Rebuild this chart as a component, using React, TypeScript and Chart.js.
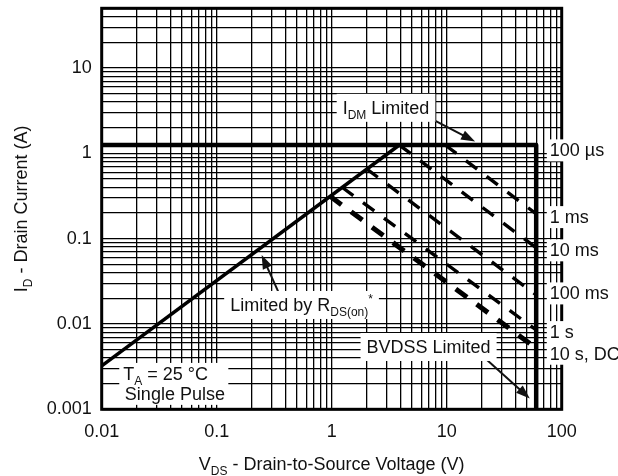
import { useEffect, useRef } from 'react';
import { Chart, registerables } from 'chart.js';

Chart.register(...registerables);

// Log-log grid: every decade plus its 2..9 subdivisions
const X_GRID = [
  0.01, 0.02, 0.03, 0.04, 0.05, 0.06, 0.07, 0.08, 0.09,
  0.1, 0.2, 0.3, 0.4, 0.5, 0.6, 0.7, 0.8, 0.9,
  1, 2, 3, 4, 5, 6, 7, 8, 9,
  10, 20, 30, 40, 50, 60, 70, 80, 90,
  100,
];
const X_LABELS = [0.01, 0.1, 1, 10, 100];
const Y_GRID = [
  0.001, 0.002, 0.003, 0.004, 0.005, 0.006, 0.007, 0.008, 0.009,
  0.01, 0.02, 0.03, 0.04, 0.05, 0.06, 0.07, 0.08, 0.09,
  0.1, 0.2, 0.3, 0.4, 0.5, 0.6, 0.7, 0.8, 0.9,
  1, 2, 3, 4, 5, 6, 7, 8, 9,
  10, 20, 30, 40, 50,
];
const Y_LABELS = [0.001, 0.01, 0.1, 1, 10];

// On-resistance limit (V, A)
const RDS_V = [0.01, 3.875];
const RDS_I = [0.00323, 1.25];
// Pulsed drain current limit, then the breakdown voltage limit
const LIMIT_V = [0.01, 60, 60];
const LIMIT_I = [1.25, 1.25, 0.001];
// Constant-power pulse-width boundaries
const P1MS_V = [9.7, 60];
const P1MS_I = [1.25, 0.195];
const P10MS_V = [3.875, 60];
const P10MS_I = [1.25, 0.078];
const P100MS_V = [2.01, 60];
const P100MS_I = [0.656, 0.0219];
const P1S_V = [1.23, 60];
const P1S_I = [0.4, 0.0085];
const PDC_V = [0.97, 60];
const PDC_I = [0.313, 0.0052];

const PULSE_NAMES = ['100 µs', '1 ms', '10 ms', '100 ms', '1 s', '10 s, DC'];

const FONT = '"Liberation Sans", Arial, Helvetica, sans-serif';

type Part = { t: string; sub?: boolean; sup?: boolean };

const toPoints = (xs: number[], ys: number[]) => xs.map((x, i) => ({ x, y: ys[i] }));

function setFont(ctx: CanvasRenderingContext2D, p: Part) {
  ctx.font = (p.sub || p.sup ? '12px ' : '18px ') + FONT;
}

function measure(ctx: CanvasRenderingContext2D, parts: Part[]) {
  let w = 0;
  for (const p of parts) {
    setFont(ctx, p);
    w += ctx.measureText(p.t).width;
  }
  return w;
}

function drawParts(ctx: CanvasRenderingContext2D, parts: Part[], x: number, y: number) {
  ctx.textAlign = 'left';
  ctx.textBaseline = 'alphabetic';
  let cx = x;
  for (const p of parts) {
    setFont(ctx, p);
    const dy = p.sub ? 5 : p.sup ? -8 : 0;
    ctx.fillText(p.t, cx, y + dy);
    cx += ctx.measureText(p.t).width;
  }
}

function arrow(ctx: CanvasRenderingContext2D, x1: number, y1: number, x2: number, y2: number) {
  const a = Math.atan2(y2 - y1, x2 - x1);
  const L = 14;
  const W = 5;
  const c = Math.cos(a);
  const s = Math.sin(a);
  ctx.lineWidth = 2;
  ctx.beginPath();
  ctx.moveTo(x1, y1);
  ctx.lineTo(x2 - L * 0.8 * c, y2 - L * 0.8 * s);
  ctx.stroke();
  ctx.beginPath();
  ctx.moveTo(x2, y2);
  ctx.lineTo(x2 - L * c + W * s, y2 - L * s - W * c);
  ctx.lineTo(x2 - L * c - W * s, y2 - L * s + W * c);
  ctx.closePath();
  ctx.fill();
}

// Boxed callouts anchored in data coordinates (left edge of text, baseline)
const CALLOUTS: { parts: Part[]; x: number; y: number }[] = [
  { parts: [{ t: 'I' }, { t: 'DM', sub: true }, { t: ' Limited' }], x: 1.246, y: 2.9 },
  {
    parts: [{ t: 'Limited by R' }, { t: 'DS(on)', sub: true }, { t: '*', sup: true }],
    x: 0.131,
    y: 0.0142,
  },
  { parts: [{ t: 'BVDSS Limited' }], x: 2.01, y: 0.00457 },
];
const ARROWS = [
  { from: [7.17, 2.58], to: [17.65, 1.37] },
  { from: [0.343, 0.0239], to: [0.246, 0.0645] },
  { from: [22.3, 0.0038], to: [52.8, 0.00134] },
];
const PULSE_LABEL_POS = { x: 78.8, y: [0.92, 0.152, 0.062, 0.0194, 0.00683, 0.00381] };

const framePlugin = {
  id: 'frame',
  afterDatasetsDraw(chart: any) {
    const { ctx, chartArea: a } = chart;
    ctx.save();
    ctx.strokeStyle = '#000';
    ctx.lineWidth = 3;
    ctx.strokeRect(a.left, a.top, a.right - a.left, a.bottom - a.top);
    ctx.restore();
  },
};

const annotationPlugin = {
  id: 'soaNotes',
  afterDraw(chart: any) {
    const { ctx, chartArea: a } = chart;
    const xs = chart.scales.x;
    const ys = chart.scales.y;
    const px = (v: number) => xs.getPixelForValue(v);
    const py = (v: number) => ys.getPixelForValue(v);
    ctx.save();
    ctx.fillStyle = '#111';
    ctx.strokeStyle = '#111';

    // arrows
    for (const ar of ARROWS) {
      arrow(ctx, px(ar.from[0]), py(ar.from[1]), px(ar.to[0]), py(ar.to[1]));
    }

    // boxed callouts
    for (const c of CALLOUTS) {
      const x = px(c.x);
      const y = py(c.y);
      const w = measure(ctx, c.parts);
      ctx.fillStyle = '#fff';
      ctx.fillRect(x - 6, y - 20, w + 12, 28);
      ctx.fillStyle = '#111';
      drawParts(ctx, c.parts, x, y);
    }

    // ambient condition note
    {
      const l1: Part[] = [{ t: 'T' }, { t: 'A', sub: true }, { t: ' = 25 °C' }];
      const l2: Part[] = [{ t: 'Single Pulse' }];
      const x1 = px(0.0154);
      const y1 = py(0.00221);
      const x2 = px(0.0159);
      const y2 = py(0.00129);
      const w = Math.max(measure(ctx, l1) + (x1 - x2), measure(ctx, l2));
      ctx.fillStyle = '#fff';
      ctx.fillRect(x1 - 4, y1 - 17, w + 9, y2 + 5 - (y1 - 17));
      ctx.fillStyle = '#111';
      drawParts(ctx, l1, x1, y1);
      drawParts(ctx, l2, x2, y2);
    }

    // pulse-width labels at the right edge
    PULSE_NAMES.forEach((name, i) => {
      const x = px(PULSE_LABEL_POS.x);
      const y = py(PULSE_LABEL_POS.y[i]);
      const parts = [{ t: name }];
      const w = measure(ctx, parts);
      ctx.fillStyle = '#fff';
      ctx.fillRect(x - 3, y - 17, w + 5, 22);
      ctx.fillStyle = '#111';
      drawParts(ctx, parts, x, y);
    });

    // axis titles
    const xt: Part[] = [{ t: 'V' }, { t: 'DS', sub: true }, { t: ' - Drain-to-Source Voltage (V)' }];
    const xw = measure(ctx, xt);
    drawParts(ctx, xt, (a.left + a.right) / 2 - xw / 2, 470);

    const yt: Part[] = [{ t: 'I' }, { t: 'D', sub: true }, { t: ' - Drain Current (A)' }];
    const yw = measure(ctx, yt);
    ctx.translate(27, (a.top + a.bottom) / 2);
    ctx.rotate(-Math.PI / 2);
    drawParts(ctx, yt, -yw / 2, 0);
    ctx.restore();
  },
};

// Keep the plot frame exactly where the layout puts it (no label overhang padding)
const noOverhang = (s: any) => {
  s.paddingTop = 0;
  s.paddingBottom = 0;
  s.paddingLeft = 0;
  s.paddingRight = 0;
};

export default function App() {
  const ref = useRef<HTMLCanvasElement>(null);

  useEffect(() => {
    const canvas = ref.current;
    if (!canvas) return;

    const line = (xs: number[], ys: number[], width: number, dash: number[] = []) => ({
      data: toPoints(xs, ys),
      showLine: true,
      borderColor: '#000',
      backgroundColor: '#000',
      borderWidth: width,
      borderDash: dash,
      borderCapStyle: 'butt' as const,
      borderJoinStyle: 'round' as const,
      pointRadius: 0,
      fill: false,
    });

    const gridOpts = { color: '#000', lineWidth: 1.3, drawTicks: false };
    const tickFont = { family: FONT, size: 18 };

    const chart = new Chart(canvas, {
      type: 'scatter',
      data: {
        datasets: [
          line(RDS_V, RDS_I, 3.5),
          line(LIMIT_V, LIMIT_I, 4.5),
          line(P1MS_V, P1MS_I, 3.4, [14, 12]),
          line(P10MS_V, P10MS_I, 3.4, [14, 12]),
          line(P100MS_V, P100MS_I, 3.4, [14, 12]),
          line(P1S_V, P1S_I, 3.4, [14, 12]),
          line(PDC_V, PDC_I, 5, [14, 12]),
        ] as any,
      },
      options: {
        responsive: false,
        animation: false,
        devicePixelRatio: 1,
        layout: { padding: { top: 8.3, right: 56.3, left: 0, bottom: 0 } },
        plugins: { legend: { display: false }, tooltip: { enabled: false } },
        scales: {
          x: {
            type: 'logarithmic',
            min: 0.01,
            max: 100,
            afterBuildTicks: (s: any) => {
              s.ticks = X_GRID.map((v) => ({ value: v }));
            },
            afterFit: (s: any) => {
              s.height = 476 - 409.3;
              noOverhang(s);
            },
            grid: gridOpts,
            border: { display: false },
            ticks: {
              autoSkip: false,
              maxRotation: 0,
              padding: 12,
              color: '#111',
              font: tickFont,
              callback: (v: any) => (X_LABELS.includes(Number(v)) ? String(v) : ''),
            },
          },
          y: {
            type: 'logarithmic',
            min: 0.001,
            max: 50,
            afterBuildTicks: (s: any) => {
              s.ticks = Y_GRID.map((v) => ({ value: v }));
            },
            afterFit: (s: any) => {
              s.width = 101.7;
              noOverhang(s);
            },
            grid: gridOpts,
            border: { display: false },
            ticks: {
              autoSkip: false,
              padding: 10,
              color: '#111',
              font: tickFont,
              callback: (v: any) => (Y_LABELS.includes(Number(v)) ? String(v) : ''),
            },
          },
        },
      } as any,
      plugins: [framePlugin, annotationPlugin],
    });

    return () => chart.destroy();
  }, []);

  return (
    <div style={{ position: 'absolute', left: 0, top: 0, width: 618, height: 476, background: '#fff' }}>
      <canvas ref={ref} width={618} height={476} style={{ width: 618, height: 476, display: 'block' }} />
    </div>
  );
}
